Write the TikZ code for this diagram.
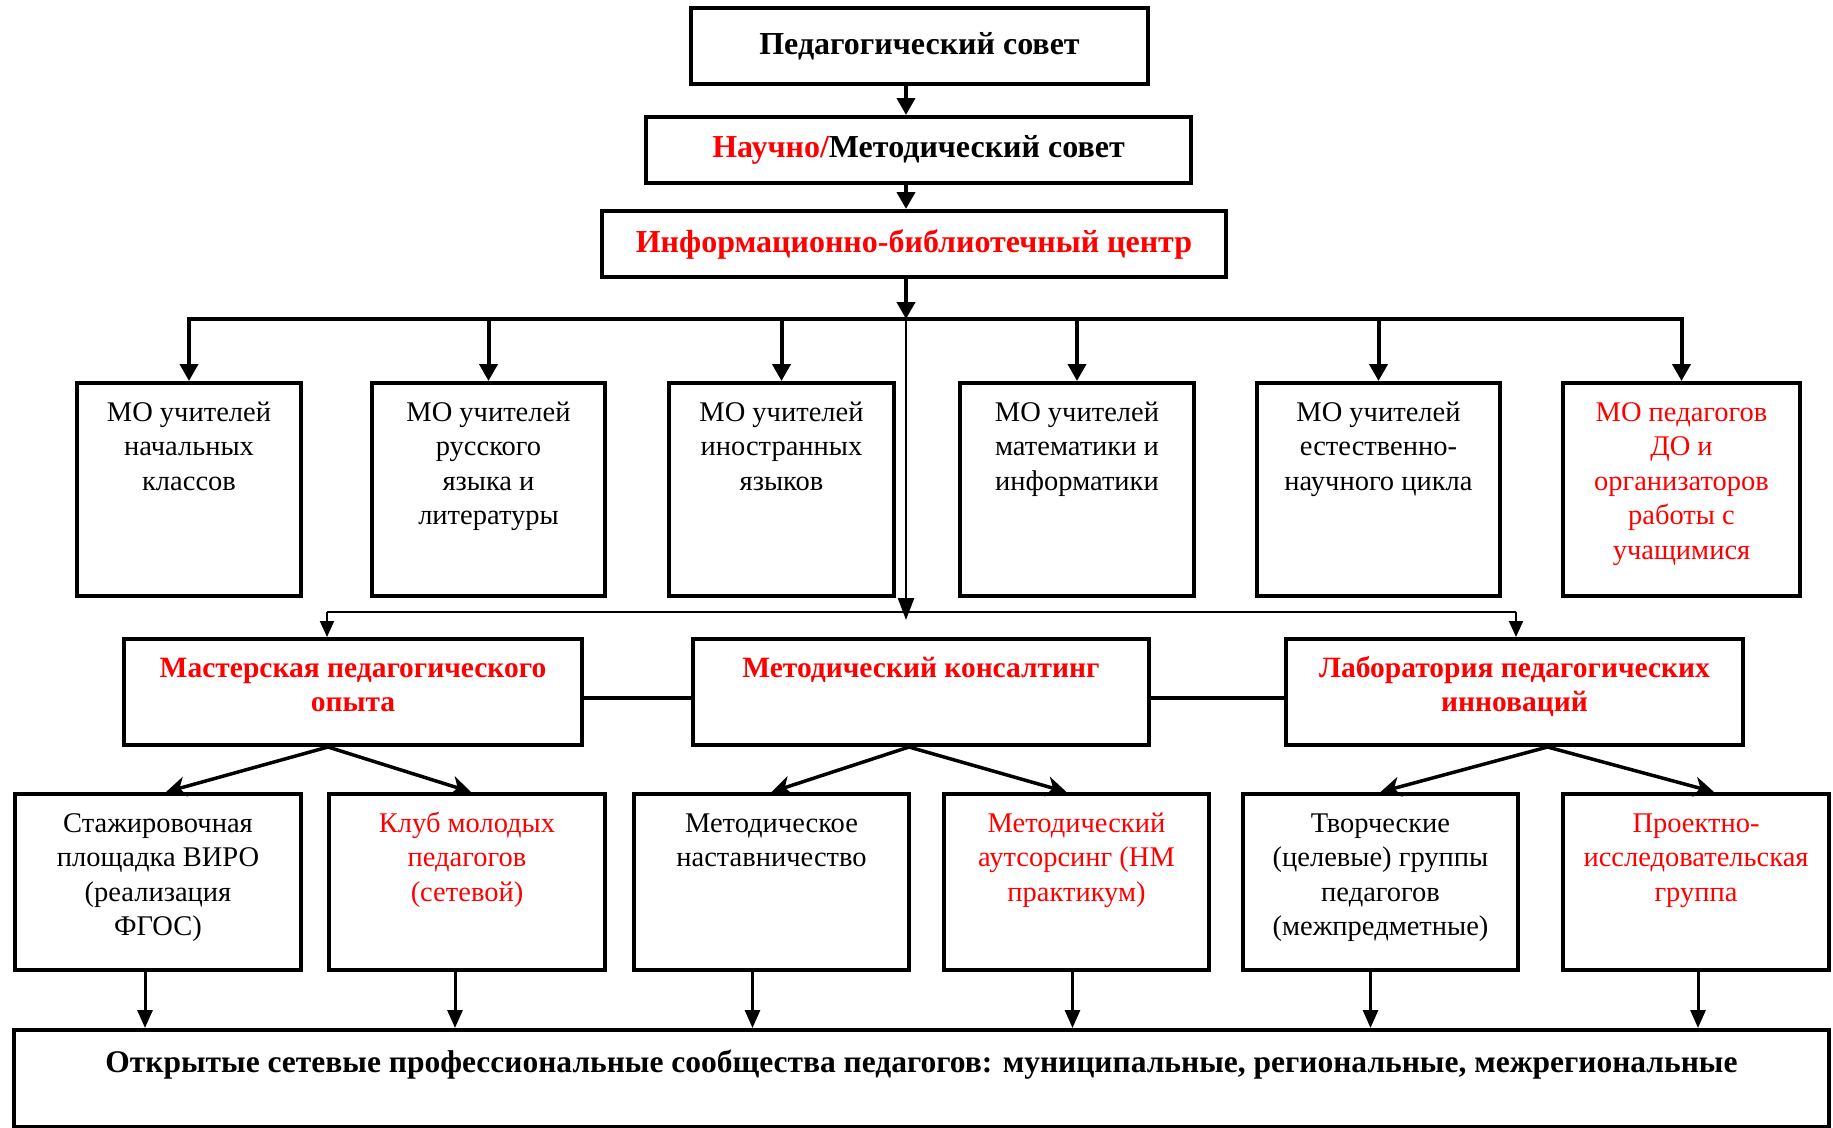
\documentclass[tikz,border=0pt]{standalone}
\usepackage{fontspec}
\setmainfont{Liberation Serif}
\usepackage{xcolor}
\usetikzlibrary{arrows.meta, positioning, calc}

% text set at the top of a box of fixed size
\newcommand{\boxtext}[4][14pt]{\parbox[c][#3pt][t]{#2pt}{\centering\vspace*{#1}\strut #4}}

\begin{document}
\begin{tikzpicture}[x=1pt, y=-1pt,
    every node/.style={font=\fontsize{28.5}{34.5}\selectfont},
    head/.style={draw, line width=4pt, font=\fontsize{32}{36}\selectfont\bfseries},
    cell/.style={draw, line width=4pt, inner sep=0pt, anchor=north west},
    unit/.style={cell, text=red, font=\fontsize{29.5}{34.5}\selectfont\bfseries},
    trunk/.style={line width=4pt},
    slim/.style={line width=2pt},
    down/.style={-{Triangle[length=17pt,width=18pt]}},
    downsmall/.style={-{Triangle[length=16pt,width=14pt]}},
    diag/.style={line width=3.5pt, -{Stealth[length=20pt,width=20pt,inset=6pt]}}]
    \useasboundingbox (0,0) rectangle (1833,1127);

    % top of the structure
    \node[head, minimum width=457pt, minimum height=76pt] (ped) at (919.5,46) {Педагогический совет};
    \node[head, minimum width=545pt, minimum height=66pt] (nauch) at (918.5,150) {\textcolor{red}{Научно/}Методический совет};
    \node[head, text=red, minimum width=624pt, minimum height=66pt] (ibc) at (914,244) {Информационно-библиотечный центр};

    % methodical units
    \node[cell] (mo1) at (75,381) {\boxtext{224}{213}{МО учителей\\начальных\\классов}};
    \node[cell] (mo2) at (370,381) {\boxtext{233}{213}{МО учителей\\русского\\языка и\\литературы}};
    \node[cell] (mo3) at (667,381) {\boxtext{225}{213}{МО учителей\\иностранных\\языков}};
    \node[cell] (mo4) at (958,381) {\boxtext{234}{213}{МО учителей\\математики и\\информатики}};
    \node[cell] (mo5) at (1255,381) {\boxtext{243}{213}{МО учителей\\естественно-\\научного цикла}};
    \node[cell, text=red] (mo6) at (1561,381) {\boxtext{237}{213}{МО педагогов\\ДО и\\организаторов\\работы с\\учащимися}};

    % middle level
    \node[unit] (master) at (122,637) {\boxtext{458}{106}{Мастерская педагогического\\опыта}};
    \node[unit] (konsalt) at (691,637) {\boxtext{456}{106}{Методический консалтинг}};
    \node[unit] (lab) at (1284,637) {\boxtext{457}{106}{Лаборатория педагогических\\инноваций}};

    % forms of work
    \node[cell] (b1) at (13,792) {\boxtext{286}{176}{Стажировочная\\площадка ВИРО\\(реализация\\ФГОС)}};
    \node[cell, text=red] (b2) at (327,792) {\boxtext{276}{176}{Клуб молодых\\педагогов\\(сетевой)}};
    \node[cell] (b3) at (632,792) {\boxtext{275}{176}{Методическое\\наставничество}};
    \node[cell, text=red] (b4) at (942,792) {\boxtext{265}{176}{Методический\\аутсорсинг (НМ\\практикум)}};
    \node[cell] (b5) at (1241,792) {\boxtext{275}{176}{Творческие\\(целевые) группы\\педагогов\\(межпредметные)}};
    \node[cell, text=red] (b6) at (1561,792) {\boxtext{266}{176}{Проектно-\\исследовательская\\группа}};

    \node[cell, font=\fontsize{31.5}{36}\selectfont\bfseries] (bot) at (12,1028) {\boxtext[17pt]{1815}{97}{Открытые сетевые профессиональные сообщества педагогов: муниципальные, региональные, межрегиональные}};

    % connectors
    \coordinate (axis) at (906,0);
    \coordinate (bus) at (0,319);
    \coordinate (lbL) at (327,612);
    \coordinate (lbR) at (1516,612);
    \draw[trunk, down] (ped.south -| axis) -- (nauch.north -| axis);
    \draw[trunk, down] (nauch.south -| axis) -- (ibc.north -| axis);
    \draw[trunk, down] (ibc.south -| axis) -- (axis |- bus);
    \draw[trunk, line cap=rect] (mo1.north |- bus) -- (mo6.north |- bus);
    \foreach \n in {mo1,mo2,mo3,mo4,mo5,mo6}
        \draw[trunk, down] (\n.north |- bus) -- (\n.north);
    \draw[line width=2.5pt, -{Triangle[length=22pt,width=16pt]}] (axis |- bus) -- ([yshift=-8pt]axis |- lbL);
    \draw[slim] (lbL) -- (lbR);
    \draw[slim, downsmall] (lbL) -- (lbL |- master.north);
    \draw[slim, downsmall] (lbR) -- (lbR |- lab.north);
    \draw[trunk] ([yshift=-6pt]master.east) -- ([yshift=-6pt]konsalt.west);
    \draw[trunk] ([yshift=-6pt]konsalt.east) -- ([yshift=-6pt]lab.west);

    \draw[diag] ([xshift=-25pt]master.south) -- ([xshift=8pt]b1.north);
    \draw[diag] ([xshift=-25pt]master.south) -- ([xshift=4pt]b2.north);
    \draw[diag] ([xshift=-12pt]konsalt.south) -- (b3.north);
    \draw[diag] ([xshift=-12pt]konsalt.south) -- ([xshift=-10pt]b4.north);
    \draw[diag] ([xshift=33pt]lab.south) -- (b5.north);
    \draw[diag] ([xshift=33pt]lab.south) -- ([xshift=18pt]b6.north);

    \foreach \n/\dx in {b1/-13,b2/-12,b3/-19,b4/-4,b5/-10,b6/2}
        \draw[line width=3pt, -{Triangle[length=18pt,width=15pt]}] ([xshift=\dx pt]\n.south) -- ([xshift=\dx pt]\n.south |- bot.north);
\end{tikzpicture}
\end{document}
